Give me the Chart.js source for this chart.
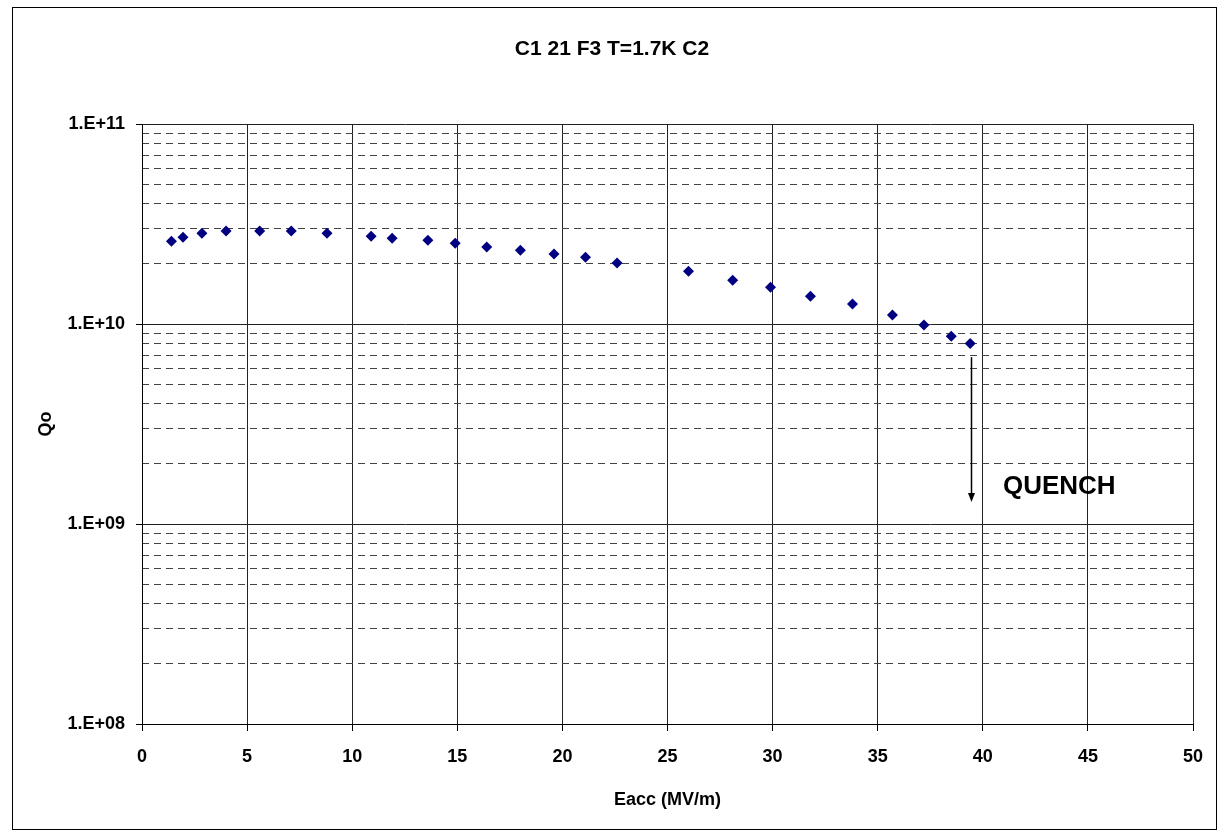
<!DOCTYPE html>
<html>
<head>
<meta charset="utf-8">
<script src="https://cdn.jsdelivr.net/npm/chart.js@4/dist/chart.umd.min.js"></script>
<style>
  html, body { margin: 0; padding: 0; background: #fff; }
  #wrap { width: 1219px; height: 834px; }
</style>
</head>
<body>
<div id="wrap"><canvas id="qChart" width="1219" height="834"></canvas></div>
<script>
// Eacc (MV/m) vs Qo
const eacc = [1.4, 1.95, 2.85, 4.0, 5.6, 7.1, 8.8, 10.9, 11.9, 13.6, 14.9, 16.4, 18.0, 19.6, 21.1, 22.6,
              26.0, 28.1, 29.9, 31.8, 33.8, 35.7, 37.2, 38.5, 39.4];
const qo = [2.6e10, 2.72e10, 2.85e10, 2.92e10, 2.92e10, 2.92e10, 2.85e10, 2.75e10, 2.69e10, 2.63e10,
            2.54e10, 2.43e10, 2.34e10, 2.24e10, 2.16e10, 2.02e10, 1.84e10, 1.66e10, 1.53e10, 1.38e10,
            1.26e10, 1.11e10, 9.9e9, 8.7e9, 8.0e9];

const xTicks = [0, 5, 10, 15, 20, 25, 30, 35, 40, 45, 50];
const yDecades = [1e8, 1e9, 1e10, 1e11];
const yMinorTicks = [];
[1e8, 1e9, 1e10].forEach(d => { for (let m = 2; m <= 9; m++) yMinorTicks.push(m * d); });

// quench marker (data units)
const quenchX = 39.44;
const quenchFrom = 6.84e9;
const quenchTo = 1.29e9;
const quenchLabel = { x: 40.96, y: 1.53e9, text: 'QUENCH' };

const FONT = "'Liberation Sans', Arial, sans-serif";

const decadeLabel = v => {
  const e = Math.round(Math.log10(v));
  return '1.E+' + String(e).padStart(2, '0');
};

const frame = {
  id: 'frame',
  afterDraw(chart) {
    const c = chart.ctx;
    c.save();
    c.strokeStyle = '#000';
    c.lineWidth = 1;
    c.strokeRect(12.5, 7.5, 1204, 822);
    c.restore();
  }
};

const quench = {
  id: 'quench',
  afterDatasetsDraw(chart) {
    const c = chart.ctx;
    const xs = chart.scales.x, ys = chart.scales.y;
    const px = Math.round(xs.getPixelForValue(quenchX)) + 0.5;
    const y1 = ys.getPixelForValue(quenchFrom);
    const y2 = ys.getPixelForValue(quenchTo);
    c.save();
    c.strokeStyle = '#000';
    c.fillStyle = '#000';
    c.lineWidth = 1.5;
    c.beginPath();
    c.moveTo(px, y1);
    c.lineTo(px, y2 - 8);
    c.stroke();
    c.beginPath();
    c.moveTo(px - 3.5, y2 - 9);
    c.lineTo(px + 3.5, y2 - 9);
    c.lineTo(px, y2);
    c.closePath();
    c.fill();
    c.font = 'bold 26px ' + FONT;
    c.textAlign = 'left';
    c.textBaseline = 'middle';
    c.fillText(quenchLabel.text, xs.getPixelForValue(quenchLabel.x), ys.getPixelForValue(quenchLabel.y));
    c.restore();
  }
};

new Chart(document.getElementById('qChart').getContext('2d'), {
  type: 'scatter',
  data: {
    datasets: [{
      label: 'Qo',
      data: eacc.map((x, i) => ({ x: x, y: qo[i] })),
      xAxisID: 'x',
      yAxisID: 'y',
      pointStyle: 'rectRot',
      pointRadius: 5.5,
      pointHoverRadius: 5.5,
      backgroundColor: '#000080',
      borderColor: '#000080',
      borderWidth: 0
    }]
  },
  options: {
    responsive: false,
    animation: false,
    events: [],
    layout: { padding: { left: 31, right: 26, top: 0, bottom: 0 } },
    plugins: {
      legend: { display: false },
      tooltip: { enabled: false },
      title: {
        display: true,
        text: 'C1 21 F3 T=1.7K C2',
        color: '#000',
        font: { family: FONT, size: 21, weight: 'bold' },
        padding: { top: 37, bottom: 62 }
      }
    },
    scales: {
      x: {
        type: 'linear',
        min: 0,
        max: 50,
        afterBuildTicks: s => { s.ticks = xTicks.map(v => ({ value: v })); },
        ticks: { color: '#000', font: { family: FONT, size: 18, weight: 'bold' }, padding: 15, maxRotation: 0 },
        grid: { color: '#222', tickColor: '#000', tickLength: 7 },
        border: { color: '#000' },
        title: {
          display: true,
          text: 'Eacc (MV/m)',
          color: '#000',
          font: { family: FONT, size: 18, weight: 'bold' },
          padding: { top: 0, bottom: 23 }
        },
        afterFit: s => { s.height = 110; }
      },
      y: {
        type: 'logarithmic',
        position: 'left',
        min: 1e8,
        max: 1e11,
        afterBuildTicks: s => { s.ticks = yDecades.map(v => ({ value: v })); },
        ticks: { color: '#000', font: { family: FONT, size: 18, weight: 'bold' }, padding: 11, callback: v => decadeLabel(v) },
        grid: { color: '#222', tickColor: '#000', tickLength: 6 },
        border: { color: '#000' },
        title: {
          display: true,
          text: 'Qo',
          color: '#000',
          font: { family: FONT, size: 18, weight: 'bold' },
          padding: { top: 4, bottom: 0 }
        },
        afterFit: s => { s.width = 111; }
      },
      yMinor: {
        type: 'logarithmic',
        position: 'left',
        min: 1e8,
        max: 1e11,
        afterBuildTicks: s => { s.ticks = yMinorTicks.map(v => ({ value: v })); },
        ticks: { display: false },
        grid: { color: '#444', drawTicks: false },
        border: { display: false, dash: [7, 5] },
        afterFit: s => { s.width = 0; }
      }
    }
  },
  plugins: [frame, quench]
});
</script>
</body>
</html>
